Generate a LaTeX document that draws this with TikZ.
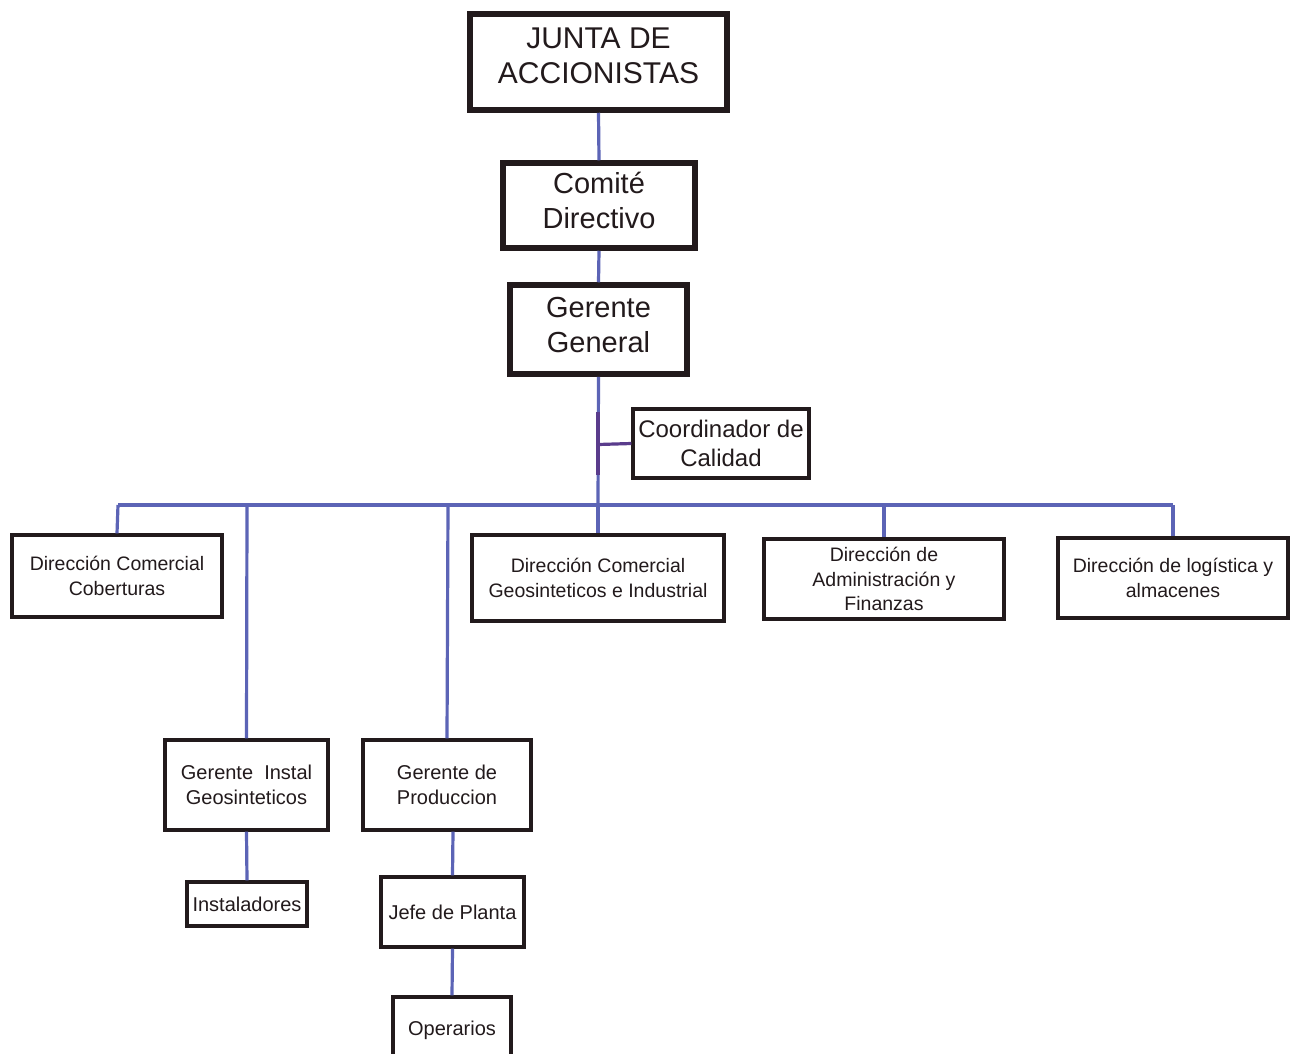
\documentclass[tikz,border=0pt]{standalone}
\usepackage{fontspec}
\setmainfont{Liberation Sans}
\definecolor{conn}{RGB}{92,100,182}
\definecolor{brk}{RGB}{90,60,140}
\definecolor{ink}{RGB}{34,26,28}
\begin{document}
\begin{tikzpicture}[x=1pt,y=-1pt,
  box/.style={draw=ink,line width=3.2pt,rectangle,inner sep=0pt,align=center,text=ink,fill=white},
  topbox/.style={box,line width=5.5pt},
  label/.style={text=ink,align=center},
  link/.style={draw=conn,line width=3.2pt},
  big/.style={font=\fontsize{30}{35}\selectfont},
  mid/.style={font=\fontsize{29}{35}\selectfont},
  coordf/.style={font=\fontsize{24}{29}\selectfont},
  small/.style={font=\fontsize{19.5}{24.5}\selectfont},
  low/.style={font=\fontsize{20}{24.5}\selectfont}]
\clip (0,0) rectangle (1296,1053);
\fill[white] (0,0) rectangle (1296,1053);
% nodes
\node[topbox,minimum width=257,minimum height=96] (junta) at (598.5,62) {};
\node[label,big] (juntatext) at (598.5,56) {JUNTA DE\\ACCIONISTAS};
\node[topbox,minimum width=192,minimum height=85] (comite) at (599,205.5) {};
\node[label,mid] (comitetext) at (599,200) {Comité\\Directivo};
\node[topbox,minimum width=177,minimum height=89] (gg) at (598.5,329.5) {};
\node[label,mid] (ggtext) at (598.5,325.5) {Gerente\\General};
\node[box,coordf,minimum width=176,minimum height=69] (coord) at (721,443.5) {Coordinador de\\Calidad};
\node[box,small,minimum width=210,minimum height=82] (dcc) at (117,576) {Dirección Comercial\\Coberturas};
\node[box,small,minimum width=252,minimum height=86] (dcg) at (598,578) {Dirección Comercial\\Geosinteticos e Industrial};
\node[box,small,minimum width=240,minimum height=80] (daf) at (884,579) {Dirección de\\Administración y\\Finanzas};
\node[box,small,minimum width=230,minimum height=80] (dla) at (1173,578) {Dirección de logística y\\almacenes};
\node[box,low,minimum width=163,minimum height=90] (gi) at (246.5,785) {Gerente~~Instal\\Geosinteticos};
\node[box,low,minimum width=168,minimum height=90] (gp) at (447,785) {Gerente de\\Produccion};
\node[box,low,minimum width=120,minimum height=44] (inst) at (247,904) {Instaladores};
\node[box,low,minimum width=143,minimum height=70] (jp) at (452.5,912) {Jefe de Planta};
\node[box,low,minimum width=118,minimum height=66] (op) at (452,1030) {Operarios};
% coordinates
\coordinate (hub) at (598,505);
\coordinate (bl) at (118,505);
\coordinate (br) at (1173,505);
\coordinate (bgi) at (247,505);
\coordinate (bgp) at (448,505);
\coordinate (bdaf) at (884,505);
\coordinate (k1) at (598,412);
\coordinate (k2) at (598,475);
\coordinate (kc) at (598,444.5);
% connectors
\draw[link] (junta.south) -- (comite.north);
\draw[link] (comite.south) -- (gg.north);
\draw[link] (gg.south) -- (hub);
\draw[draw=brk,line width=3.2pt] (k1) -- (k2);
\draw[draw=brk,line width=3.2pt] (kc) -- (coord.west);
\draw[link] (bl) -- (br);
\draw[link] (bl) -- (dcc.north);
\draw[link] (bgi) -- (gi.north);
\draw[link] (bgp) -- (gp.north);
\draw[link] (hub) -- (dcg.north);
\draw[link] (bdaf) -- (daf.north);
\draw[link] (br) -- (dla.north);
\draw[link] (gi.south) -- (inst.north);
\draw[link] ([xshift=6pt]gp.south) -- (jp.north);
\draw[link] (jp.south) -- (op.north);
\end{tikzpicture}
\end{document}
